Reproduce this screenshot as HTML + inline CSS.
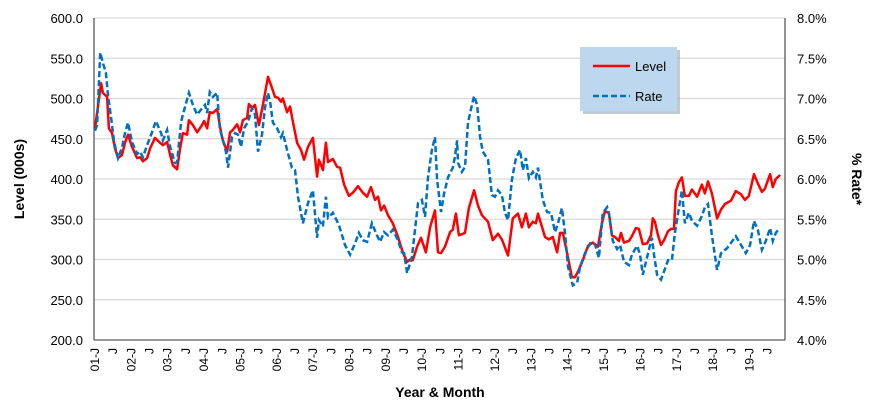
<!DOCTYPE html>
<html><head><meta charset="utf-8"><style>
html,body{margin:0;padding:0;background:#fff;}
svg{display:block;font-family:"Liberation Sans",sans-serif;}
</style></head><body>
<svg id="chart" width="870" height="407" viewBox="0 0 870 407" xmlns="http://www.w3.org/2000/svg">
<g id="grid"></g>
<g id="axes"></g>
<g id="series"></g>
<text transform="translate(24,179) rotate(-90)" text-anchor="middle" font-size="14" font-weight="bold" fill="#000">Level (000s)</text>
<text transform="translate(852,179) rotate(90)" text-anchor="middle" font-size="14" font-weight="bold" fill="#000">% Rate*</text>
<text x="440" y="397" text-anchor="middle" font-size="14" font-weight="bold" fill="#000">Year &amp; Month</text>
<g>
<rect x="583" y="50" width="97" height="64" fill="#9aa7b5" opacity="0.6"/>
<rect x="580" y="47" width="97" height="64" fill="#bdd7ee"/>
<line x1="593" y1="66" x2="630" y2="66" stroke="#ff0000" stroke-width="2.5"/>
<text x="635" y="71" font-size="13" fill="#000">Level</text>
<line x1="593" y1="96" x2="630" y2="96" stroke="#0070c0" stroke-width="2.5" stroke-dasharray="6,3"/>
<text x="635" y="101" font-size="13" fill="#000">Rate</text>
</g>
</svg>
<script>
const levelMonths=[0,2.0,2.6,4.0,4.6,5.6,6.6,7.6,8.9,9.9,10.9,12.2,13.9,14.9,15.8,17.2,18.2,19.8,21.5,22.4,23.8,24.8,25.7,27.1,28.1,29.0,30.4,31.0,32.3,33.7,35.3,36.0,37.0,37.9,38.9,40.3,41.6,42.2,43.6,44.6,45.5,46.9,47.9,48.8,50.2,50.8,51.8,52.8,54.1,55.4,57.1,58.4,59.4,60.4,61.4,62.0,63.4,64.4,65.3,66.7,68.0,69.0,70.3,71.9,73.3,73.9,75.2,76.2,76.9,78.5,79.9,80.9,82.2,83.8,85.1,86.8,88.4,89.8,91.1,92.4,93.4,94.4,95.4,96.7,98.3,100.0,101.6,103.0,104.0,104.9,106.3,107.6,109.2,110.6,112.2,113.2,114.2,115.5,117.2,118.1,119.1,120.1,122.1,123.4,125.1,126.4,127.7,129.7,131.3,133.0,134.3,136.3,137.9,139.6,140.9,142.2,143.2,144.5,145.5,146.2,148.5,149.8,151.1,152.5,153.5,154.4,155.8,157.4,158.4,159.4,161.0,162.7,164.3,166.0,167.3,168.3,169.6,170.6,171.6,172.9,173.6,174.6,176.2,177.2,178.5,179.5,180.8,182.2,183.5,184.1,184.8,185.8,186.8,187.8,189.1,190.1,191.1,191.7,192.7,193.7,194.7,196.0,197.0,198.7,200.3,201.3,202.3,203.6,205.3,206.6,207.9,209.9,211.5,213.2,214.5,215.8,217.5,218.8,220.1,221.1,222.8,223.7,224.7,226.1];
const levelValues=[463,519,507,502,463,457,438,426,430,445,455,440,426,427,422,426,438,451,445,442,446,430,417,412,438,457,455,473,467,458,467,472,463,483,482,487,458,448,434,458,461,468,458,473,476,493,488,492,467,492,527,513,502,501,496,500,483,490,471,445,436,424,440,451,403,424,411,445,421,425,415,414,393,379,383,391,383,378,390,374,378,361,367,355,345,328,309,297,300,299,316,327,309,340,361,309,308,316,334,337,357,330,333,364,386,367,355,347,324,332,325,305,351,357,340,357,340,347,345,357,328,325,328,309,333,333,308,278,278,285,299,317,321,316,345,360,358,330,328,323,333,321,323,329,339,338,319,320,330,351,347,330,318,324,335,338,338,385,396,402,379,379,387,378,393,382,397,382,351,362,369,373,385,381,374,379,406,394,384,388,406,390,400,405];
const rateMonths=[0,0.7,1.7,2.6,3.6,4.3,5.3,6.3,7.6,8.9,9.9,10.9,12.2,13.9,14.9,15.8,17.2,18.8,20.1,21.8,22.4,23.8,24.8,26.4,27.1,28.4,29.0,31.0,32.3,33.7,35.3,36.3,37.0,37.9,38.9,40.3,41.2,42.2,43.2,43.9,45.2,46.2,47.2,48.2,49.2,50.5,51.8,52.8,53.8,55.1,56.1,57.1,57.8,58.7,60.1,61.4,62.0,63.4,65.0,66.0,67.0,68.6,70.3,71.9,73.3,73.9,75.2,76.2,76.9,78.5,80.5,82.5,84.2,85.8,87.1,88.4,89.8,91.4,92.7,94.1,95.4,96.7,98.3,100.0,101.3,102.0,103.0,104.6,105.6,106.6,107.9,108.9,109.9,111.2,112.2,112.9,114.2,115.2,116.5,118.1,118.8,119.5,119.8,121.1,122.1,123.1,124.4,125.1,126.1,127.1,128.0,129.7,131.0,132.0,133.0,134.3,135.3,136.3,137.6,138.9,140.3,141.2,142.2,143.2,144.5,145.5,146.2,147.8,149.2,150.5,151.8,152.8,154.1,155.1,156.1,157.7,159.1,160.1,161.7,163.4,165.0,166.3,167.6,169.0,169.6,170.9,172.3,173.3,174.6,176.2,177.2,178.9,179.9,180.8,182.2,183.8,184.5,185.5,186.8,187.8,189.1,190.4,191.4,192.4,193.7,194.7,196.0,197.0,198.7,200.3,201.3,202.3,203.6,205.3,206.6,208.6,211.5,213.2,214.8,216.2,217.5,218.8,220.1,221.4,222.8,223.7,224.7,225.7];
const rateValues=[6.6,6.67,7.57,7.44,7.32,7.04,6.76,6.46,6.26,6.39,6.57,6.70,6.46,6.31,6.34,6.27,6.42,6.58,6.72,6.57,6.48,6.61,6.40,6.20,6.21,6.71,6.80,7.07,6.92,6.80,6.88,6.92,6.82,7.08,7.02,7.07,6.63,6.48,6.34,6.14,6.52,6.57,6.55,6.40,6.63,6.71,6.88,6.80,6.34,6.55,6.89,7.07,6.96,6.70,6.63,6.52,6.57,6.36,6.14,6.11,5.78,5.45,5.70,5.86,5.27,5.49,5.41,5.78,5.52,5.58,5.43,5.18,5.06,5.20,5.33,5.24,5.22,5.45,5.33,5.22,5.34,5.30,5.37,5.24,5.09,5.08,4.83,5.03,5.37,5.70,5.74,5.53,6.02,6.36,6.52,5.99,5.59,5.82,6.02,6.14,6.28,6.48,6.20,6.09,6.15,6.70,6.92,7.03,6.92,6.52,6.34,6.24,5.80,5.78,5.86,5.80,5.58,5.49,5.99,6.26,6.36,6.11,6.26,6.01,6.09,6.02,6.14,5.74,5.59,5.58,5.34,5.45,5.64,5.33,4.91,4.68,4.71,4.91,5.08,5.20,5.19,5.02,5.58,5.65,5.57,5.23,5.13,5.18,4.97,4.93,5.06,5.17,5.06,4.81,5.03,5.27,5.06,4.81,4.75,4.85,4.99,4.99,5.33,5.57,5.86,5.45,5.58,5.48,5.42,5.54,5.65,5.69,5.30,4.87,5.08,5.14,5.29,5.18,5.08,5.18,5.48,5.36,5.12,5.23,5.39,5.23,5.33,5.38];
const leftTicks=[200,250,300,350,400,450,500,550,600];
const rightTicks=[4.0,4.5,5.0,5.5,6.0,6.5,7.0,7.5,8.0];
const xTickMonths=[0,6,12,18,24,30,36,42,48,54,60,66,72,78,84,90,96,102,108,114,120,126,132,138,144,150,156,162,168,174,180,186,192,198,204,210,216,222];
const xTickLabels=["01-J","J","02-J","J","03-J","J","04-J","J","05-J","J","06-J","J","07-J","J","08-J","J","09-J","J","10-J","J","11-J","J","12-J","J","13-J","J","14-J","J","15-J","J","16-J","J","17-J","J","18-J","J","19-J","J"];

const PL=94,PR=785,PT=18,PB=340;
const xS=m=>95+m*3.03;
const yL=v=>PB-(v-200)/400*(PB-PT);
const yR=v=>PB-(v-4)/4*(PB-PT);
const NS="http://www.w3.org/2000/svg";
function mk(tag,parent){const e=document.createElementNS(NS,tag);parent.appendChild(e);return e;}
const grid=document.getElementById('grid'),axes=document.getElementById('axes'),ser=document.getElementById('series');

leftTicks.forEach((v,i)=>{
  if(v>200){const g=mk('line',grid);
  
  
  g.setAttribute('x1',PL);g.setAttribute('x2',PR);g.setAttribute('y1',yL(v));g.setAttribute('y2',yL(v));
  g.setAttribute('stroke','#d9d9d9');g.setAttribute('stroke-width','1.3');}
  const t=mk('text',axes);
  
  
  t.setAttribute('x',83);t.setAttribute('y',yL(v)+5);t.setAttribute('text-anchor','end');t.setAttribute('font-size','13');
  t.textContent=v.toFixed(1);
});
rightTicks.forEach(v=>{
  const t=mk('text',axes);
  
  
  t.setAttribute('x',797);t.setAttribute('y',yR(v)+5);t.setAttribute('font-size','13');
  t.textContent=v.toFixed(1)+'%';
});
[[PL,PT,PL,PB],[PR,PT,PR,PB],[PL,PB,PR,PB]].forEach(c=>{
  const l=mk('line',axes);
  
  
  l.setAttribute('x1',c[0]);l.setAttribute('y1',c[1]);l.setAttribute('x2',c[2]);l.setAttribute('y2',c[3]);
  l.setAttribute('stroke','#595959');l.setAttribute('stroke-width','1.3');
});
xTickMonths.forEach((m,i)=>{
  const t=mk('text',axes);
  
  
  const x=xS(m)+4;
  t.setAttribute('transform','translate('+x+',348) rotate(-90)');
  t.setAttribute('text-anchor','end');t.setAttribute('font-size','12');
  t.textContent=xTickLabels[i];
});
function path(ms,vs,ys){return ms.map((m,i)=>(i?'L':'M')+xS(m).toFixed(1)+','+ys(vs[i]).toFixed(1)).join('');}
const rp=mk('path',ser);


rp.setAttribute('d',path(rateMonths,rateValues,yR));
rp.setAttribute('fill','none');rp.setAttribute('stroke','#0070c0');rp.setAttribute('stroke-width','2.5');rp.setAttribute('stroke-dasharray','6,3');
const lp=mk('path',ser);


lp.setAttribute('d',path(levelMonths,levelValues,yL));
lp.setAttribute('fill','none');lp.setAttribute('stroke','#ff0000');lp.setAttribute('stroke-width','2.5');lp.setAttribute('stroke-linejoin','round');
ser.appendChild(rp);
</script>
</body></html>
